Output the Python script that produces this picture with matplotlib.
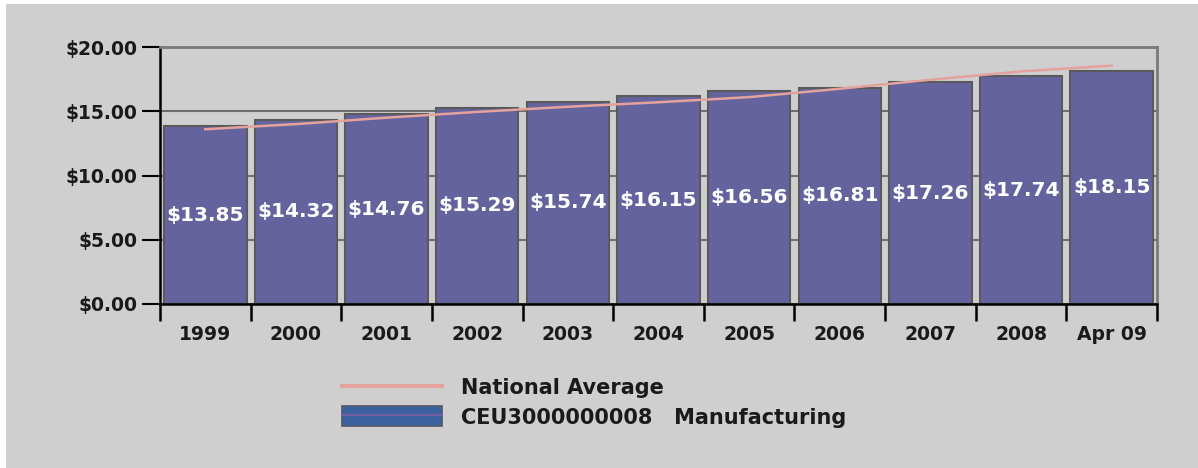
import matplotlib
matplotlib.use("Agg")
import matplotlib.pyplot as plt
from matplotlib.patches import Rectangle, Patch
from matplotlib.lines import Line2D
import numpy as np

categories = ["1999", "2000", "2001", "2002", "2003", "2004", "2005", "2006", "2007", "2008", "Apr 09"]
manufacturing = [13.85, 14.32, 14.76, 15.29, 15.74, 16.15, 16.56, 16.81, 17.26, 17.74, 18.15]
national_avg = [13.60, 14.00, 14.50, 14.95, 15.35, 15.70, 16.10, 16.75, 17.45, 18.10, 18.55]
y_ticks = [0, 5, 10, 15, 20]
y_tick_labels = ["$0.00", "$5.00", "$10.00", "$15.00", "$20.00"]
legend_labels = ["National Average", "CEU3000000008   Manufacturing"]

BG = "#cfcfcf"
BAR = "#65639e"
LINE = "#e3a29c"

W, H = 1198, 468
fig = plt.figure(figsize=(W / 100, H / 100), dpi=100)
fig.patch.set_facecolor("white")
fig.patches.append(Rectangle((6 / W, 0), 1 - 6 / W, 1 - 4 / H, transform=fig.transFigure,
                             facecolor=BG, edgecolor="none", zorder=-10))

ax = fig.add_axes([160 / W, 1 - 304 / H, (1157 - 160) / W, (304 - 47) / H])
ax.set_facecolor(BG)

x = np.arange(len(categories))
ax.set_axisbelow(True)
ax.yaxis.grid(True, color="#6e6e6e", linewidth=1.5)
bars = ax.bar(x, manufacturing, width=0.91, color=BAR, edgecolor="#5a5a5a", linewidth=1.5, zorder=2)
ax.plot(x, national_avg, color=LINE, linewidth=1.8, zorder=3)

font = "DejaVu Sans"
for xi, v in zip(x, manufacturing):
    ax.text(xi, v / 2, f"${v:.2f}", ha="center", va="center", color="white",
            fontsize=14.5, fontweight="bold", family=font, zorder=4)

ax.set_xlim(-0.5, len(categories) - 0.5)
ax.set_ylim(0, 20)
ax.set_yticks(y_ticks)
ax.set_yticklabels(y_tick_labels, fontsize=13.5, fontweight="bold", family=font, color="#1a1a1a")
ax.set_xticks(x)
ax.set_xticklabels(categories, fontsize=13.5, fontweight="bold", family=font, color="#1a1a1a")
ax.set_xticks(np.arange(-0.5, len(categories)), minor=True)
ax.tick_params(axis="x", which="major", length=0, pad=15)
ax.tick_params(axis="x", which="minor", length=12, width=1.8, color="black", direction="out")
ax.tick_params(axis="y", which="major", length=13, width=1.5, color="black", direction="out", pad=3)

for s in ["top", "right"]:
    ax.spines[s].set_color("#7a7a7a")
    ax.spines[s].set_linewidth(2)
for s in ["left", "bottom"]:
    ax.spines[s].set_color("black")
    ax.spines[s].set_linewidth(1.8)

h1 = Line2D([], [], color=LINE, linewidth=3)
h2a = Patch(facecolor="#3b62a0", edgecolor="#555566", linewidth=1.2)
h2b = Line2D([], [], color="#7560a8", linewidth=1.5)
leg = fig.legend([h1, (h2a, h2b)], legend_labels, loc="upper left",
                 bbox_to_anchor=(342 / W, 1 - 377 / H), frameon=False,
                 prop={"family": font, "weight": "bold", "size": 15},
                 handlelength=4.8, handleheight=1.1, handletextpad=0.9, labelspacing=0.4,
                 borderpad=0, borderaxespad=0)
for t in leg.get_texts():
    t.set_color("#1a1a1a")

fig.savefig("out.png", dpi=100, facecolor=fig.get_facecolor())
